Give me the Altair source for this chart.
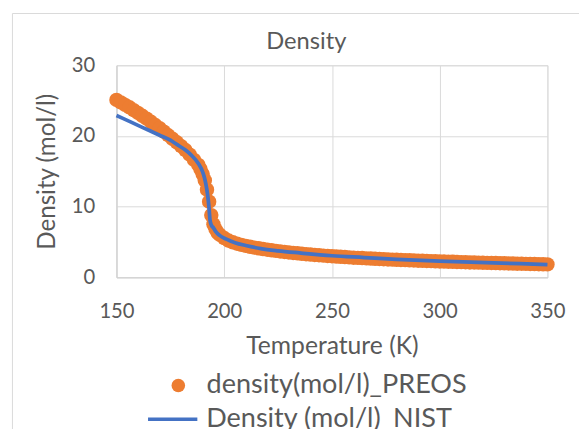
import altair as alt
import pandas as pd

# ---- data ----
preos_T = [150, 152, 154, 156, 158, 160, 162, 164, 166, 168, 170, 172, 174, 176, 178, 180, 182, 184, 186,
           188, 189, 190, 191, 192, 193, 194, 195, 196, 197,
           198, 200, 202, 204, 206, 208, 210, 212, 214, 216, 218, 220, 222, 224, 226, 228, 230, 232, 234,
           236, 238, 240, 242, 244, 246, 248, 250, 252, 254, 256, 258, 260, 262, 264, 266, 268, 270, 272,
           274, 276, 278, 280, 282, 284, 286, 288, 290, 292, 294, 296, 298, 300, 302, 304, 306, 308, 310,
           312, 314, 316, 318, 320, 322, 324, 326, 328, 330, 332, 334, 336, 338, 340, 342, 344, 346, 348, 350]
preos_rho = [25.1, 24.75, 24.4, 24.05, 23.65, 23.25, 22.85, 22.45, 22.0, 21.55, 21.1, 20.6, 20.1, 19.6, 19.1,
             18.55, 18.0, 17.35, 16.6,
             15.9, 15.3, 14.6, 13.7, 12.4, 10.7, 8.8, 7.5, 6.8, 6.3,
             6.0, 5.55, 5.2, 4.95, 4.75, 4.59, 4.45, 4.32, 4.2, 4.1, 4.0, 3.9, 3.82, 3.74, 3.66, 3.59, 3.52,
             3.45, 3.39, 3.33, 3.27, 3.22, 3.17, 3.12, 3.07, 3.02, 2.98, 2.94, 2.9, 2.86, 2.82, 2.78, 2.75,
             2.72, 2.68, 2.65, 2.62, 2.59, 2.56, 2.53, 2.5, 2.48, 2.45, 2.43, 2.4, 2.38, 2.35, 2.33, 2.31,
             2.29, 2.27, 2.25, 2.23, 2.21, 2.19, 2.17, 2.15, 2.13, 2.11, 2.1, 2.08, 2.06, 2.04, 2.03, 2.01,
             2.0, 1.98, 1.96, 1.95, 1.93, 1.92, 1.9, 1.89, 1.87, 1.86, 1.84, 1.83]

nist_T = [150, 155, 160, 165, 170, 175, 178, 182, 185, 188, 190, 191, 192, 192.6, 193, 193.4, 194, 195, 196,
          198, 201, 205, 210, 217, 225, 235, 250, 265, 280, 300, 325, 350]
nist_rho = [22.9, 22.2, 21.5, 20.8, 20.1, 19.4, 18.8, 18.0, 17.2, 16.1, 14.9, 13.9, 12.3, 10.9, 9.6, 8.1, 7.4,
            7.0, 6.5, 5.9, 5.4, 4.9, 4.5, 4.07, 3.75, 3.45, 3.05, 2.8, 2.55, 2.3, 2.05, 1.8]

x_ticks = [150, 200, 250, 300, 350]
y_ticks = [0, 10, 20, 30]

series_preos = "density(mol/l)_PREOS"
series_nist = "Density (mol/l)_NIST"

ORANGE = "#ED7D31"
BLUE = "#4472C4"
TXT = "#595959"
GRID = "#D9D9D9"
FONT = "Lato"

df_p = pd.DataFrame({"T": preos_T, "rho": preos_rho, "series": series_preos})
df_n = pd.DataFrame({"T": nist_T, "rho": nist_rho, "series": series_nist})

W, H = 437, 215

xscale = alt.Scale(domain=[150, 350], nice=False, zero=False)
yscale = alt.Scale(domain=[0, 30], nice=False)

xaxis = alt.Axis(values=x_ticks, title="Temperature (K)", grid=True, gridColor=GRID, ticks=False,
                 domainColor="#D0D0D0", labelFont=FONT, labelFontSize=20.5, labelColor=TXT,
                 labelFlush=False, labelOverlap=False,
                 labelPadding=25, titleFont=FONT, titleFontSize=25, titleFontWeight="normal",
                 titleColor=TXT, titleX=W / 2, titleY=77, titleBaseline="alphabetic")
yaxis = alt.Axis(values=y_ticks, title="Density (mol/l)", grid=True, gridColor=GRID, ticks=False,
                 domainColor="#D0D0D0", labelFont=FONT, labelFontSize=20.5, labelColor=TXT,
                 labelFlush=False, labelOverlap=False,
                 labelPadding=22, titleFont=FONT, titleFontSize=24.5, titleFontWeight="normal",
                 titleColor=TXT, titleAngle=270, titleX=-63, titleY=H / 2,
                 titleBaseline="alphabetic", titleAlign="center")

points = alt.Chart(df_p).mark_circle(size=215, opacity=1).encode(
    x=alt.X("T:Q", scale=xscale, axis=xaxis),
    y=alt.Y("rho:Q", scale=yscale, axis=yaxis),
    color=alt.Color("series:N", scale=alt.Scale(domain=[series_preos], range=[ORANGE]),
                    legend=alt.Legend(title=None, orient="none", legendX=49, legendY=311,
                                      symbolType="circle", symbolSize=190, symbolOpacity=1,
                                      symbolStrokeWidth=0, labelLimit=0,
                                      labelFont=FONT, labelFontSize=27.4, labelColor=TXT,
                                      labelOffset=15, padding=0)),
)

line = alt.Chart(df_n).mark_line(strokeWidth=3.8, interpolate="monotone").encode(
    x=alt.X("T:Q", scale=xscale),
    y=alt.Y("rho:Q", scale=yscale),
    stroke=alt.Stroke("series:N", scale=alt.Scale(domain=[series_nist], range=[BLUE]),
                      legend=alt.Legend(title=None, orient="none", legendX=30, legendY=332,
                                        symbolType="stroke", symbolSize=2500, symbolStrokeWidth=3.5,
                                        symbolStrokeColor=BLUE, labelLimit=0,
                                        labelFont=FONT, labelFontSize=27.4, labelColor=TXT,
                                        labelOffset=7, padding=0)),
)

frame_src = alt.Data(values=[{"k": 1}])
frame_left = alt.Chart(frame_src).mark_rule(color=GRID, strokeWidth=1).encode(
    x=alt.value(-105.5), y=alt.value(-52.5), y2=alt.value(H + 200))
frame_top = alt.Chart(frame_src).mark_rule(color=GRID, strokeWidth=1).encode(
    x=alt.value(-105.5), x2=alt.value(W + 100), y=alt.value(-52.5))

chart = alt.layer(frame_left, frame_top, points, line).resolve_scale(color="independent").properties(
    width=W, height=H,
    title=alt.TitleParams("Density", font=FONT, fontSize=24, fontWeight="normal", color=TXT,
                          anchor="middle", dx=-26, dy=60, offset=0, baseline="alphabetic"),
    autosize=alt.AutoSizeParams(type="none"),
    padding={"left": 110, "top": 55, "right": 32, "bottom": 170},
).configure_view(stroke=None).configure(background="white")

chart.save("out.html", embed_options={"renderer": "svg", "actions": False})
